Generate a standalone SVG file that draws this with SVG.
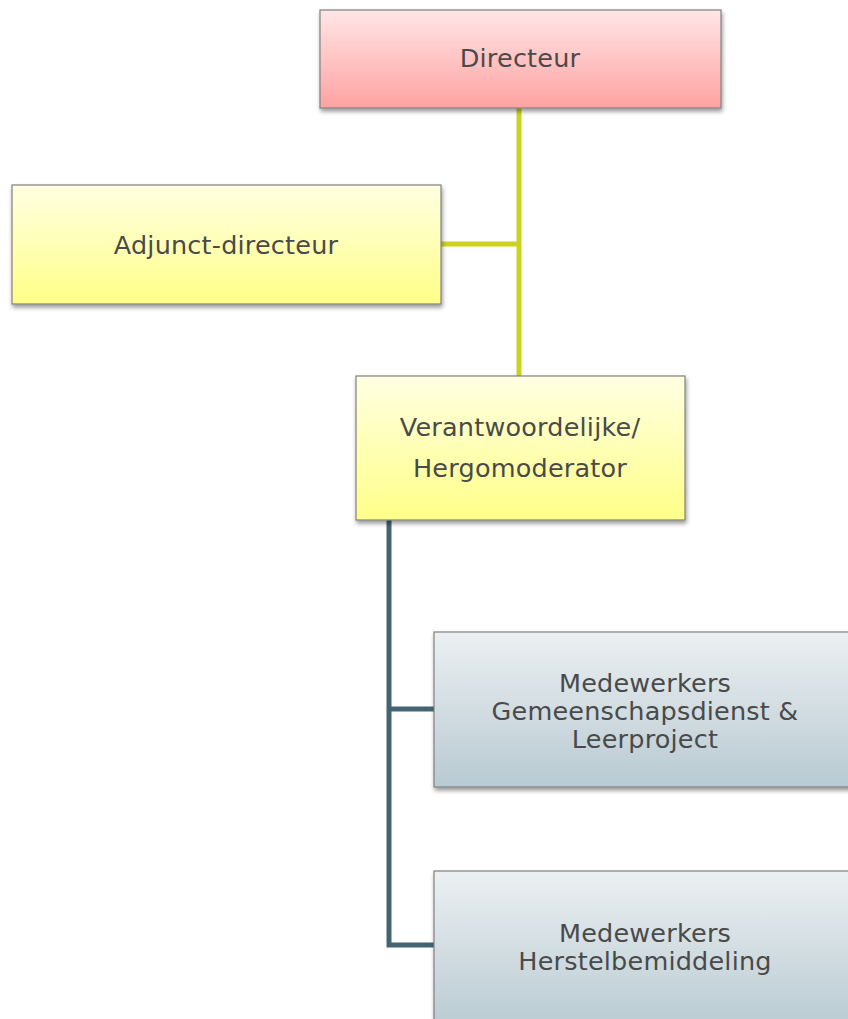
<svg xmlns="http://www.w3.org/2000/svg" width="848" height="1019" viewBox="0 0 848 1019">
<defs>
<linearGradient id="gRed" x1="0" y1="0" x2="0" y2="1"><stop offset="0" stop-color="#ffe6e6"/><stop offset="1" stop-color="#ffa2a2"/></linearGradient>
<linearGradient id="gYel" x1="0" y1="0" x2="0" y2="1"><stop offset="0" stop-color="#ffffe2"/><stop offset="1" stop-color="#ffff88"/></linearGradient>
<linearGradient id="gGry" x1="0" y1="0" x2="0" y2="1"><stop offset="0" stop-color="#ecf0f2"/><stop offset="1" stop-color="#b8cad2"/></linearGradient>
<filter id="sh" x="-10%" y="-10%" width="120%" height="130%"><feDropShadow dx="1" dy="3" stdDeviation="2" flood-color="#000" flood-opacity="0.4"/></filter>
</defs>
<style>
.box{stroke:#808080;stroke-width:1.2;filter:url(#sh)}
.t{font-family:"DejaVu Sans","Liberation Sans",sans-serif;font-size:25.5px;letter-spacing:0.2px;fill:#4a4a4a;text-anchor:middle}
.ly{stroke:#cdd21e;stroke-width:5;fill:none}
.lt{stroke:#426571;stroke-width:5;fill:none}
</style>
<rect width="848" height="1019" fill="#ffffff"/>
<g id="connectors">
<path class="ly" d="M519 108 V376 M441 244 H519"/>
<path class="lt" d="M389 520 V945 H434 M389 709 H434"/>
</g>
<g id="directeur">
<rect class="box" x="320" y="10" width="401" height="98" fill="url(#gRed)"/>
<text class="t" x="520" y="67">Directeur</text>
</g>
<g id="adjunct">
<rect class="box" x="12" y="185" width="429" height="119" fill="url(#gYel)"/>
<text class="t" x="226" y="254">Adjunct-directeur</text>
</g>
<g id="verantwoordelijke">
<rect class="box" x="356" y="376" width="329" height="144" fill="url(#gYel)"/>
<text class="t" x="520" y="436">Verantwoordelijke/</text>
<text class="t" x="520" y="477">Hergomoderator</text>
</g>
<g id="gemeenschapsdienst">
<rect class="box" x="434" y="632" width="430" height="155" fill="url(#gGry)"/>
<text class="t" x="645" y="692">Medewerkers</text>
<text class="t" x="645" y="720">Gemeenschapsdienst &amp;</text>
<text class="t" x="645" y="748">Leerproject</text>
</g>
<g id="herstelbemiddeling">
<rect class="box" x="434" y="871" width="430" height="160" fill="url(#gGry)"/>
<text class="t" x="645" y="942">Medewerkers</text>
<text class="t" x="645" y="970">Herstelbemiddeling</text>
</g>
</svg>
